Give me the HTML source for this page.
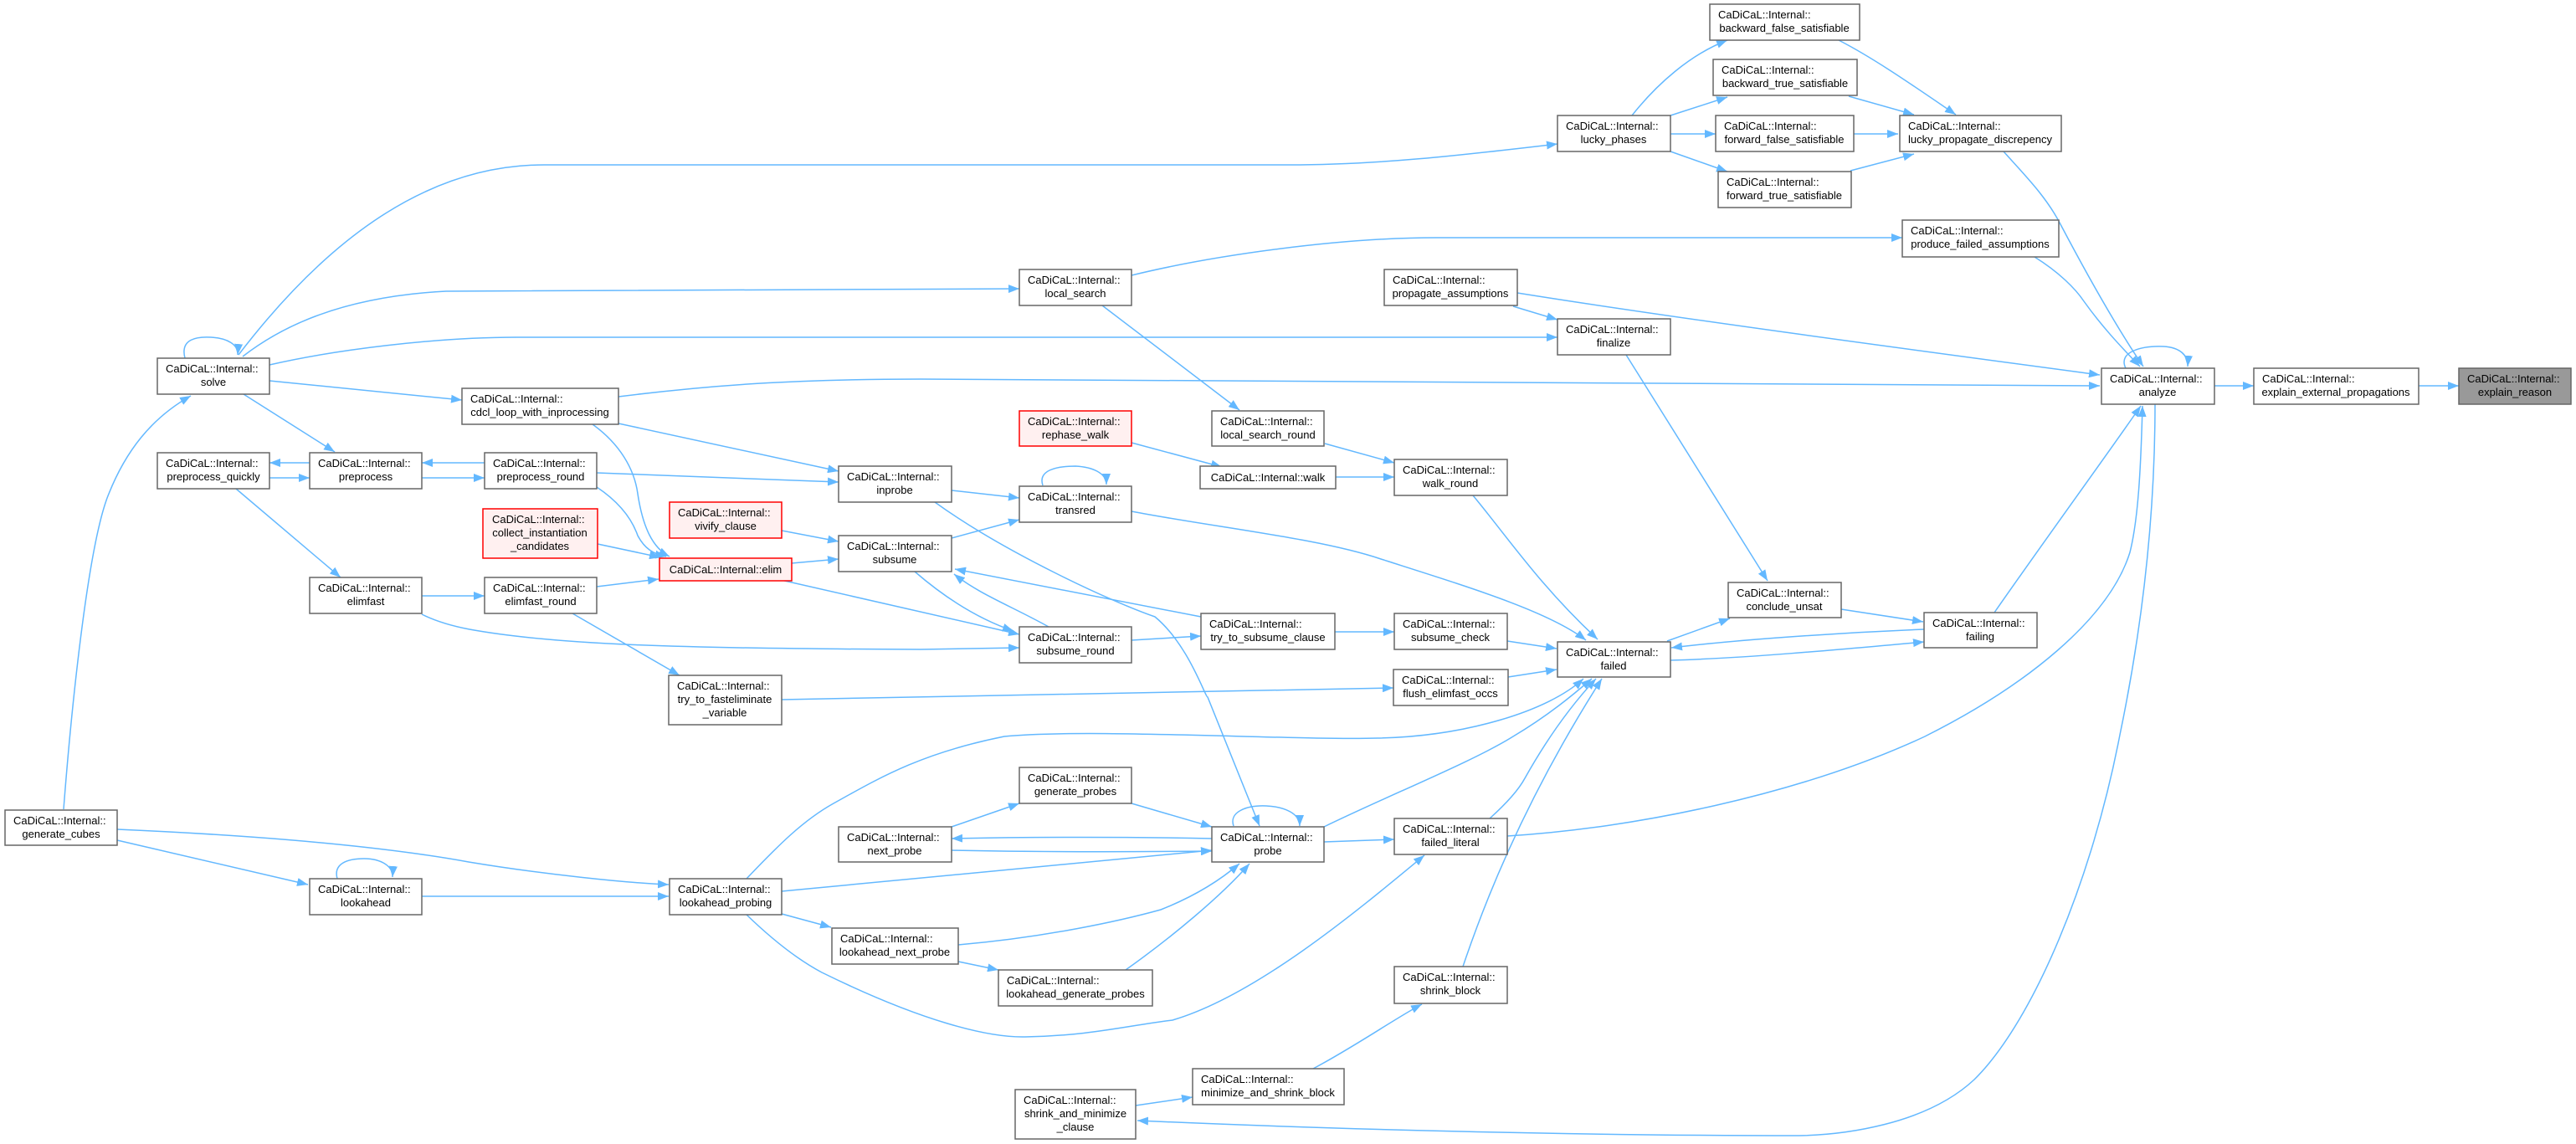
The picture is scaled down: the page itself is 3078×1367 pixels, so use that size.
<!DOCTYPE html>
<html><head><meta charset="utf-8"><style>
html,body{margin:0;padding:0;background:#fff;}
svg{display:block;}
text{font-family:"Liberation Sans",Arial,sans-serif;font-size:13px;fill:#000;}
.n{fill:#fff;stroke:#666;stroke-width:1.5;}
.r{fill:#fff0f0;stroke:#ff0000;stroke-width:1.5;}
.g{fill:#999;stroke:#666;stroke-width:1.5;}
.e{fill:none;stroke:#63b8ff;stroke-width:1.5;marker-end:url(#a);}
</style></head><body>
<svg width="3078" height="1367" viewBox="0 0 3078 1367" xmlns="http://www.w3.org/2000/svg">
<defs><marker id="a" markerWidth="14" markerHeight="10" refX="13" refY="5" orient="auto" markerUnits="userSpaceOnUse"><path d="M0,0 L13,5 L0,10 z" fill="#63b8ff"/></marker></defs>

<!-- edges -->
<path class="e" d="M2890,461 L2938,461"/>
<path class="e" d="M2646,461 L2693,461"/>
<path class="e" d="M2540,440 C2530,420 2560,413 2585,414 C2605,415 2615,425 2614,438"/>
<path class="e" d="M2394,181 C2420,210 2445,235 2462,268 C2500,340 2535,400 2561,438"/>
<path class="e" d="M2431,307 C2460,325 2480,345 2490,360 C2515,395 2540,420 2557,438"/>
<path class="e" d="M1813,350 C2000,380 2300,420 2509,448"/>
<path class="e" d="M739,474 C850,460 950,453 1100,453 L2509,461"/>
<path class="e" d="M1801,999 C1950,990 2150,950 2300,880 C2420,820 2520,740 2545,660 C2555,620 2558,560 2560,485"/>
<path class="e" d="M2383,732 C2440,650 2520,540 2558,485"/>
<path class="e" d="M2575,483 C2575,560 2570,700 2533,878 C2500,1050 2430,1220 2359,1290 C2300,1345 2200,1356 2150,1357 C1900,1357 1600,1350 1359,1339"/>
<path class="e" d="M1950,138 C1980,100 2020,65 2064,48"/>
<path class="e" d="M1996,138 L2064,116"/>
<path class="e" d="M1996,160 L2050,160"/>
<path class="e" d="M1996,181 L2064,205"/>
<path class="e" d="M2197,48 C2240,70 2290,105 2337,137"/>
<path class="e" d="M2209,115 L2287,137"/>
<path class="e" d="M2215,160 L2268,160"/>
<path class="e" d="M2211,204 L2287,184"/>
<path class="e" d="M285,424 C380,300 500,197 650,197 L1540,197 C1650,197 1750,185 1861,172"/>
<path class="e" d="M221,428 C215,405 235,402 252,403 C272,404 285,412 284,424"/>
<path class="e" d="M290,426 C330,395 400,355 533,348 L1218,345"/>
<path class="e" d="M322,436 C400,418 520,403 617,403 L1861,403"/>
<path class="e" d="M322,455 L552,478"/>
<path class="e" d="M291,471 L400,540"/>
<path class="e" d="M370,553 L322,553"/>
<path class="e" d="M322,571 L370,571"/>
<path class="e" d="M579,553 L504,553"/>
<path class="e" d="M504,571 L579,571"/>
<path class="e" d="M739,506 L1002,563"/>
<path class="e" d="M713,565 L1002,576"/>
<path class="e" d="M708,507 C740,530 758,560 762,590 C768,630 780,655 800,665"/>
<path class="e" d="M713,582 C740,600 755,620 762,640 C770,655 780,662 796,665"/>
<path class="e" d="M714,650 L789,666"/>
<path class="e" d="M713,701 L787,692"/>
<path class="e" d="M946,673 L1002,668"/>
<path class="e" d="M934,634 L1002,647"/>
<path class="e" d="M282,584 L407,690"/>
<path class="e" d="M504,712 L579,712"/>
<path class="e" d="M504,734 C520,742 540,748 561,752 C660,770 800,775 1100,776 L1218,774"/>
<path class="e" d="M684,733 L812,807"/>
<path class="e" d="M933,693 L1218,758"/>
<path class="e" d="M934,836 L1665,822"/>
<path class="e" d="M1093,683 C1130,715 1170,740 1211,754"/>
<path class="e" d="M1253,749 C1210,725 1170,710 1140,686"/>
<path class="e" d="M1435,737 L1141,680"/>
<path class="e" d="M1352,765 L1435,760"/>
<path class="e" d="M1595,755 L1666,755"/>
<path class="e" d="M1801,766 L1860,775"/>
<path class="e" d="M1802,809 L1860,800"/>
<path class="e" d="M1992,766 L2067,739"/>
<path class="e" d="M2200,728 L2298,743"/>
<path class="e" d="M2299,752 C2200,756 2080,764 1997,774"/>
<path class="e" d="M1995,789 C2080,787 2200,776 2299,767"/>
<path class="e" d="M1943,424 L2112,694"/>
<path class="e" d="M1137,643 L1218,621"/>
<path class="e" d="M1137,586 L1218,595"/>
<path class="e" d="M1246,580 C1240,562 1262,557 1285,557 C1305,558 1322,565 1322,579"/>
<path class="e" d="M1352,611 C1450,630 1576,643 1650,668 C1750,700 1850,730 1895,765"/>
<path class="e" d="M1760,592 C1800,640 1840,700 1909,764"/>
<path class="e" d="M1317,365 L1481,490"/>
<path class="e" d="M1583,530 L1666,553"/>
<path class="e" d="M1352,529 L1460,558"/>
<path class="e" d="M1596,570 L1666,570"/>
<path class="e" d="M1352,329 C1450,305 1600,284 1716,284 L2273,284"/>
<path class="e" d="M1808,366 L1861,382"/>
<path class="e" d="M1117,600 C1200,660 1330,720 1380,737 C1420,770 1440,833 1443,833 C1470,900 1490,950 1505,987"/>
<path class="e" d="M1474,987 C1468,970 1490,962 1513,963 C1535,964 1553,972 1553,987"/>
<path class="e" d="M1352,960 L1448,988"/>
<path class="e" d="M1137,988 L1218,960"/>
<path class="e" d="M1448,1002 C1350,1000 1230,1000 1137,1002"/>
<path class="e" d="M1137,1016 C1230,1018 1350,1018 1448,1017"/>
<path class="e" d="M934,1065 L1448,1016"/>
<path class="e" d="M1145,1129 C1250,1120 1340,1100 1387,1087 C1430,1070 1460,1050 1481,1032"/>
<path class="e" d="M1345,1159 C1400,1120 1460,1070 1493,1032"/>
<path class="e" d="M934,1092 L993,1108"/>
<path class="e" d="M1145,1149 L1193,1159"/>
<path class="e" d="M1582,1006 L1666,1003"/>
<path class="e" d="M1582,988 C1660,950 1760,910 1808,880 C1850,855 1880,830 1902,811"/>
<path class="e" d="M1780,978 C1800,960 1815,943 1822,930 C1850,880 1880,840 1907,811"/>
<path class="e" d="M892,1050 C930,1010 960,980 996,960 C1050,930 1100,900 1200,880 C1300,870 1550,885 1646,882 C1750,880 1850,850 1892,811"/>
<path class="e" d="M1748,1155 C1800,1000 1870,880 1914,811"/>
<path class="e" d="M892,1093 C920,1120 950,1145 982,1162 C1100,1220 1180,1240 1225,1239 C1300,1238 1350,1225 1401,1219 C1500,1190 1620,1090 1702,1022"/>
<path class="e" d="M1569,1277 C1620,1250 1670,1215 1699,1200"/>
<path class="e" d="M1357,1321 L1425,1311"/>
<path class="e" d="M76,967 C85,850 105,650 130,590 C150,540 180,500 228,473"/>
<path class="e" d="M140,1004 L368,1057"/>
<path class="e" d="M140,991 C300,998 450,1010 560,1030 C650,1045 750,1055 799,1057"/>
<path class="e" d="M504,1071 L799,1071"/>
<path class="e" d="M403,1050 C398,1032 415,1026 435,1026 C455,1026 470,1035 469,1048"/>

<!-- nodes -->
<g>
<rect class="n" x="188" y="428" width="134" height="43"/><text x="198" y="445">CaDiCaL::Internal::</text><text x="255" y="461" text-anchor="middle">solve</text>
<rect class="n" x="552" y="464" width="187" height="43"/><text x="562" y="481">CaDiCaL::Internal::</text><text x="645" y="497" text-anchor="middle">cdcl_loop_with_inprocessing</text>
<rect class="n" x="188" y="541" width="134" height="43"/><text x="198" y="558">CaDiCaL::Internal::</text><text x="255" y="574" text-anchor="middle">preprocess_quickly</text>
<rect class="n" x="370" y="541" width="134" height="43"/><text x="380" y="558">CaDiCaL::Internal::</text><text x="437" y="574" text-anchor="middle">preprocess</text>
<rect class="n" x="579" y="541" width="134" height="43"/><text x="589" y="558">CaDiCaL::Internal::</text><text x="646" y="574" text-anchor="middle">preprocess_round</text>
<rect class="r" x="577" y="608" width="137" height="59"/><text x="588" y="625">CaDiCaL::Internal::</text><text x="645" y="641" text-anchor="middle">collect_instantiation</text><text x="645" y="657" text-anchor="middle">_candidates</text>
<rect class="r" x="800" y="600" width="134" height="43"/><text x="810" y="617">CaDiCaL::Internal::</text><text x="867" y="633" text-anchor="middle">vivify_clause</text>
<rect class="r" x="788" y="667" width="158" height="27"/><text x="867" y="685" text-anchor="middle">CaDiCaL::Internal::elim</text>
<rect class="n" x="1002" y="557" width="135" height="43"/><text x="1012" y="574">CaDiCaL::Internal::</text><text x="1069" y="590" text-anchor="middle">inprobe</text>
<rect class="n" x="1002" y="640" width="135" height="43"/><text x="1012" y="657">CaDiCaL::Internal::</text><text x="1069" y="673" text-anchor="middle">subsume</text>
<rect class="n" x="370" y="690" width="134" height="43"/><text x="380" y="707">CaDiCaL::Internal::</text><text x="437" y="723" text-anchor="middle">elimfast</text>
<rect class="n" x="579" y="690" width="134" height="43"/><text x="589" y="707">CaDiCaL::Internal::</text><text x="646" y="723" text-anchor="middle">elimfast_round</text>
<rect class="n" x="799" y="807" width="135" height="59"/><text x="809" y="824">CaDiCaL::Internal::</text><text x="866" y="840" text-anchor="middle">try_to_fasteliminate</text><text x="866" y="856" text-anchor="middle">_variable</text>
<rect class="n" x="6" y="968" width="134" height="42"/><text x="16" y="985">CaDiCaL::Internal::</text><text x="73" y="1001" text-anchor="middle">generate_cubes</text>
<rect class="n" x="370" y="1050" width="134" height="43"/><text x="380" y="1067">CaDiCaL::Internal::</text><text x="437" y="1083" text-anchor="middle">lookahead</text>
<rect class="n" x="800" y="1050" width="134" height="43"/><text x="810" y="1067">CaDiCaL::Internal::</text><text x="867" y="1083" text-anchor="middle">lookahead_probing</text>
<rect class="n" x="1002" y="988" width="135" height="42"/><text x="1012" y="1005">CaDiCaL::Internal::</text><text x="1069" y="1021" text-anchor="middle">next_probe</text>
<rect class="n" x="994" y="1109" width="151" height="43"/><text x="1004" y="1126">CaDiCaL::Internal::</text><text x="1069" y="1142" text-anchor="middle">lookahead_next_probe</text>
<rect class="n" x="2043" y="5" width="179" height="43"/><text x="2053" y="22">CaDiCaL::Internal::</text><text x="2132" y="38" text-anchor="middle">backward_false_satisfiable</text>
<rect class="n" x="2047" y="71" width="172" height="43"/><text x="2057" y="88">CaDiCaL::Internal::</text><text x="2133" y="104" text-anchor="middle">backward_true_satisfiable</text>
<rect class="n" x="1861" y="138" width="135" height="43"/><text x="1871" y="155">CaDiCaL::Internal::</text><text x="1928" y="171" text-anchor="middle">lucky_phases</text>
<rect class="n" x="2050" y="138" width="165" height="43"/><text x="2060" y="155">CaDiCaL::Internal::</text><text x="2132" y="171" text-anchor="middle">forward_false_satisfiable</text>
<rect class="n" x="2053" y="205" width="159" height="43"/><text x="2063" y="222">CaDiCaL::Internal::</text><text x="2132" y="238" text-anchor="middle">forward_true_satisfiable</text>
<rect class="n" x="1218" y="322" width="134" height="43"/><text x="1228" y="339">CaDiCaL::Internal::</text><text x="1285" y="355" text-anchor="middle">local_search</text>
<rect class="n" x="1654" y="322" width="159" height="43"/><text x="1664" y="339">CaDiCaL::Internal::</text><text x="1733" y="355" text-anchor="middle">propagate_assumptions</text>
<rect class="n" x="1861" y="381" width="135" height="43"/><text x="1871" y="398">CaDiCaL::Internal::</text><text x="1928" y="414" text-anchor="middle">finalize</text>
<rect class="r" x="1218" y="491" width="134" height="42"/><text x="1228" y="508">CaDiCaL::Internal::</text><text x="1285" y="524" text-anchor="middle">rephase_walk</text>
<rect class="n" x="1448" y="491" width="134" height="42"/><text x="1458" y="508">CaDiCaL::Internal::</text><text x="1515" y="524" text-anchor="middle">local_search_round</text>
<rect class="n" x="1434" y="557" width="162" height="27"/><text x="1515" y="575" text-anchor="middle">CaDiCaL::Internal::walk</text>
<rect class="n" x="1666" y="549" width="135" height="43"/><text x="1676" y="566">CaDiCaL::Internal::</text><text x="1733" y="582" text-anchor="middle">walk_round</text>
<rect class="n" x="1218" y="581" width="134" height="43"/><text x="1228" y="598">CaDiCaL::Internal::</text><text x="1285" y="614" text-anchor="middle">transred</text>
<rect class="n" x="1218" y="749" width="134" height="43"/><text x="1228" y="766">CaDiCaL::Internal::</text><text x="1285" y="782" text-anchor="middle">subsume_round</text>
<rect class="n" x="1435" y="733" width="160" height="43"/><text x="1445" y="750">CaDiCaL::Internal::</text><text x="1515" y="766" text-anchor="middle">try_to_subsume_clause</text>
<rect class="n" x="1666" y="733" width="135" height="43"/><text x="1676" y="750">CaDiCaL::Internal::</text><text x="1733" y="766" text-anchor="middle">subsume_check</text>
<rect class="n" x="1861" y="767" width="135" height="42"/><text x="1871" y="784">CaDiCaL::Internal::</text><text x="1928" y="800" text-anchor="middle">failed</text>
<rect class="n" x="1665" y="800" width="137" height="43"/><text x="1675" y="817">CaDiCaL::Internal::</text><text x="1733" y="833" text-anchor="middle">flush_elimfast_occs</text>
<rect class="n" x="2065" y="696" width="135" height="42"/><text x="2075" y="713">CaDiCaL::Internal::</text><text x="2132" y="729" text-anchor="middle">conclude_unsat</text>
<rect class="n" x="2299" y="732" width="135" height="42"/><text x="2309" y="749">CaDiCaL::Internal::</text><text x="2366" y="765" text-anchor="middle">failing</text>
<rect class="n" x="1218" y="917" width="134" height="43"/><text x="1228" y="934">CaDiCaL::Internal::</text><text x="1285" y="950" text-anchor="middle">generate_probes</text>
<rect class="n" x="1448" y="988" width="134" height="42"/><text x="1458" y="1005">CaDiCaL::Internal::</text><text x="1515" y="1021" text-anchor="middle">probe</text>
<rect class="n" x="1666" y="978" width="135" height="43"/><text x="1676" y="995">CaDiCaL::Internal::</text><text x="1733" y="1011" text-anchor="middle">failed_literal</text>
<rect class="n" x="1193" y="1159" width="184" height="43"/><text x="1203" y="1176">CaDiCaL::Internal::</text><text x="1285" y="1192" text-anchor="middle">lookahead_generate_probes</text>
<rect class="n" x="1666" y="1155" width="135" height="44"/><text x="1676" y="1172">CaDiCaL::Internal::</text><text x="1733" y="1188" text-anchor="middle">shrink_block</text>
<rect class="n" x="1425" y="1277" width="181" height="43"/><text x="1435" y="1294">CaDiCaL::Internal::</text><text x="1515" y="1310" text-anchor="middle">minimize_and_shrink_block</text>
<rect class="n" x="1213" y="1302" width="144" height="59"/><text x="1223" y="1319">CaDiCaL::Internal::</text><text x="1285" y="1335" text-anchor="middle">shrink_and_minimize</text><text x="1285" y="1351" text-anchor="middle">_clause</text>
<rect class="n" x="2270" y="138" width="193" height="43"/><text x="2280" y="155">CaDiCaL::Internal::</text><text x="2366" y="171" text-anchor="middle">lucky_propagate_discrepency</text>
<rect class="n" x="2273" y="263" width="187" height="44"/><text x="2283" y="280">CaDiCaL::Internal::</text><text x="2366" y="296" text-anchor="middle">produce_failed_assumptions</text>
<rect class="n" x="2511" y="440" width="135" height="43"/><text x="2521" y="457">CaDiCaL::Internal::</text><text x="2578" y="473" text-anchor="middle">analyze</text>
<rect class="n" x="2693" y="440" width="197" height="43"/><text x="2703" y="457">CaDiCaL::Internal::</text><text x="2791" y="473" text-anchor="middle">explain_external_propagations</text>
<rect class="g" x="2938" y="440" width="134" height="43"/><text x="2948" y="457">CaDiCaL::Internal::</text><text x="3005" y="473" text-anchor="middle">explain_reason</text>
</g>
</svg>
</body></html>
